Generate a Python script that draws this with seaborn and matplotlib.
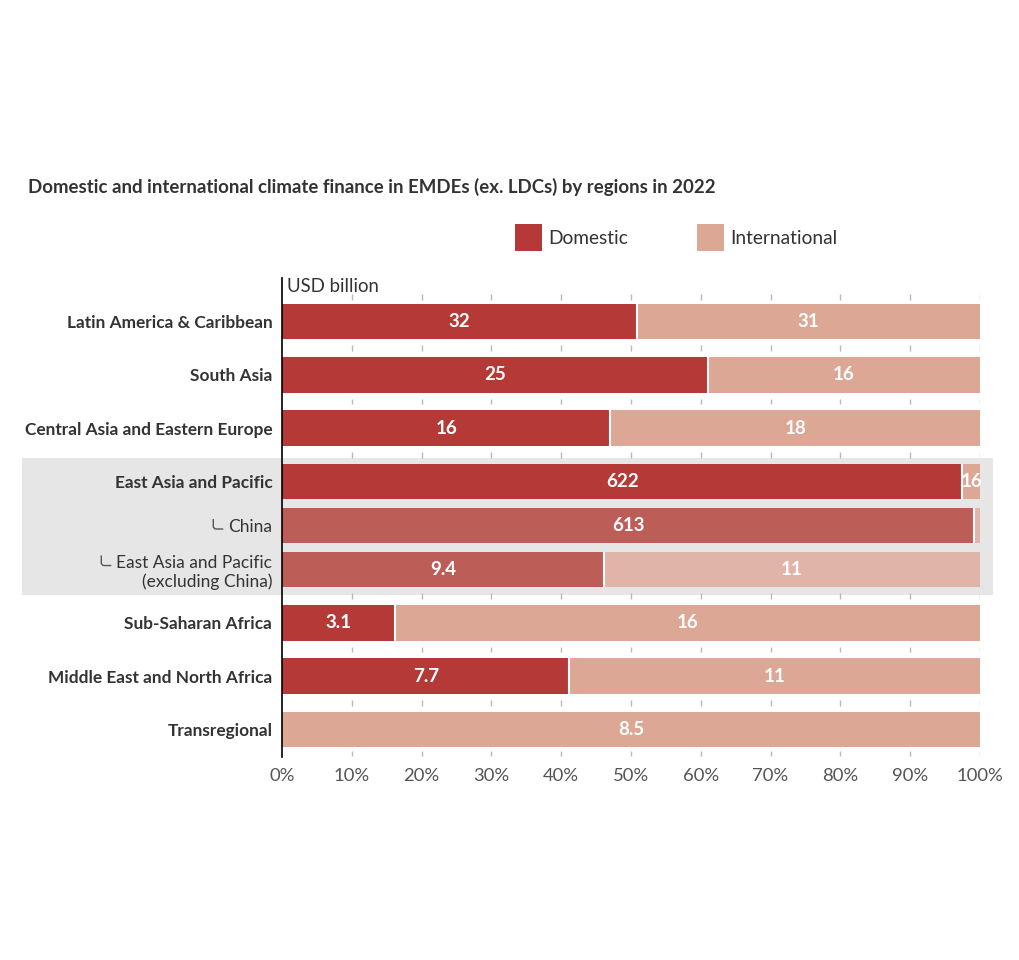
import matplotlib
matplotlib.use("Agg")
import matplotlib.pyplot as plt
import seaborn as sns
import pandas as pd
import numpy as np
from matplotlib.patches import Rectangle, PathPatch
from matplotlib.path import Path

# ---------------- data ----------------
regions = [
    "Latin America & Caribbean",
    "South Asia",
    "Central Asia and Eastern Europe",
    "East Asia and Pacific",
    "China",
    "East Asia and Pacific\n(excluding China)",
    "Sub-Saharan Africa",
    "Middle East and North Africa",
    "Transregional",
]
domestic = [32, 25, 16, 622, 613, 9.4, 3.1, 7.7, 0]
international = [31, 16, 18, 16, 5, 11, 16, 11, 8.5]
is_sub = [False, False, False, False, True, True, False, False, False]
x_ticks = [0, 10, 20, 30, 40, 50, 60, 70, 80, 90, 100]
x_tick_labels = [f"{t}%" for t in x_ticks]
legend_labels = ["Domestic", "International"]
title = "Domestic and international climate finance in EMDEs (ex. LDCs) by regions in 2022"
unit_label = "USD billion"

# ---------------- layout / style ----------------
row_pos = [0, 1, 2, 3, 3.825, 4.65, 5.65, 6.65, 7.65]
gap_pos = [-0.46, 0.5, 1.5, 2.5, 5.15, 6.15, 7.15, 8.1]
DOM, DOM_SUB = "#b53a37", "#bd5d58"
INT, INT_SUB = "#dca794", "#e0b4a8"
TXT = "#333333"

sns.set_theme(style="white")
plt.rcParams["font.family"] = ["Lato", "DejaVu Sans"]

W, H = 1020, 960
fig = plt.figure(figsize=(W / 100, H / 100), dpi=100)
fig.patch.set_facecolor("white")
ax = fig.add_axes([282 / W, 1 - 757 / H, 698 / W, 479 / H])
ax.set_facecolor("none")

dom = np.array(domestic, dtype=float)
itl = np.array(international, dtype=float)
tot = dom + itl
dom_pct = dom / tot * 100
int_pct = itl / tot * 100

df = pd.DataFrame({
    "pos": row_pos,
    "dom_pct": dom_pct,
    "total": dom_pct + int_pct,
    "tone": ["sub" if s else "main" for s in is_sub],
})

common = dict(data=df, y="pos", hue="tone", orient="h", native_scale=True,
              dodge=False, width=0.807, legend=False, ax=ax, linewidth=0,
              saturation=1, errorbar=None)
sns.barplot(x="total", palette={"main": INT, "sub": INT_SUB}, **common)
n_int = len(ax.patches)
sns.barplot(x="dom_pct", palette={"main": DOM, "sub": DOM_SUB}, **common)

# white separators between segments
for p in ax.patches[n_int:]:
    w = p.get_width()
    if w > 0:
        ax.plot([w, w], [p.get_y(), p.get_y() + p.get_height()],
                color="white", lw=1.5, solid_capstyle="butt", zorder=5)

# value labels
for i in range(len(regions)):
    if dom[i] > 0 and dom_pct[i] >= 2:
        ax.text(dom_pct[i] / 2, row_pos[i], f"{dom[i]:g}", ha="center", va="center",
                color="white", fontsize=13.5, fontweight="bold", zorder=6)
    if itl[i] > 0 and int_pct[i] >= 2:
        ax.text(dom_pct[i] + int_pct[i] / 2, row_pos[i], f"{itl[i]:g}", ha="center",
                va="center", color="white", fontsize=13.5, fontweight="bold", zorder=6)

# short tick marks in the gaps
for g in gap_pos:
    ax.vlines(x_ticks[1:], g - 0.055, g + 0.055, color="#b8b8b8", lw=1, zorder=1)

ax.set_xlim(0, 100)
ax.set_ylim(8.166, -0.816)
ax.set_xticks(x_ticks)
ax.set_xticklabels(x_tick_labels, fontsize=13.3, color="#555555")
ax.set_yticks(row_pos)
ax.set_yticklabels(regions, fontsize=12.4, color=TXT)
for lab, s in zip(ax.get_yticklabels(), is_sub):
    if s:
        lab.set_fontweight("normal")
        lab.set_fontsize(12.5)
    else:
        lab.set_fontweight("bold")
ax.tick_params(axis="x", length=0, pad=8)
ax.tick_params(axis="y", length=0, pad=7)
ax.set_xlabel("")
ax.set_ylabel("")
for s in ["top", "right", "bottom"]:
    ax.spines[s].set_visible(False)
ax.spines["left"].set_color("black")
ax.spines["left"].set_linewidth(1.2)

# grey highlight box for East Asia group
fig.add_artist(Rectangle((22 / W, 1 - 595 / H), 971 / W, 137 / H,
                         transform=fig.transFigure, facecolor="#e6e6e6",
                         edgecolor="none", zorder=-1))

# title, unit, legend
fig.text(28 / W, 1 - 187 / H, title, fontsize=13.4, fontweight="bold",
         color=TXT, ha="left", va="center")
fig.text(287 / W, 1 - 286 / H, unit_label, fontsize=13.4, color=TXT,
         ha="left", va="center")
for (x0, col, lab) in [(515, DOM, legend_labels[0]), (697, INT, legend_labels[1])]:
    fig.add_artist(Rectangle((x0 / W, 1 - 251 / H), 27 / W, 27 / H,
                             transform=fig.transFigure, facecolor=col,
                             edgecolor="none"))
    fig.text((x0 + 33) / W, 1 - 238 / H, lab, fontsize=13.8, color=TXT,
             ha="left", va="center")

# connector hooks for sub-rows
fig.canvas.draw()
renderer = fig.canvas.get_renderer()
for lab, s in zip(ax.get_yticklabels(), is_sub):
    if not s:
        continue
    bb = lab.get_window_extent(renderer)
    nlines = lab.get_text().count("\n") + 1
    line_h = bb.height / nlines
    yc = bb.y1 - line_h / 2 - 2
    xr = bb.x0 - 5
    xl = xr - 10
    verts = [(xl, yc + 10), (xl, yc + 3), (xl, yc), (xl + 3, yc), (xr, yc)]
    verts = [(vx / W, vy / H) for vx, vy in verts]
    codes = [Path.MOVETO, Path.LINETO, Path.CURVE3, Path.CURVE3, Path.LINETO]
    fig.add_artist(PathPatch(Path(verts, codes), transform=fig.transFigure,
                             fill=False, edgecolor="#555555", lw=1))

fig.savefig("out.png", dpi=100)
